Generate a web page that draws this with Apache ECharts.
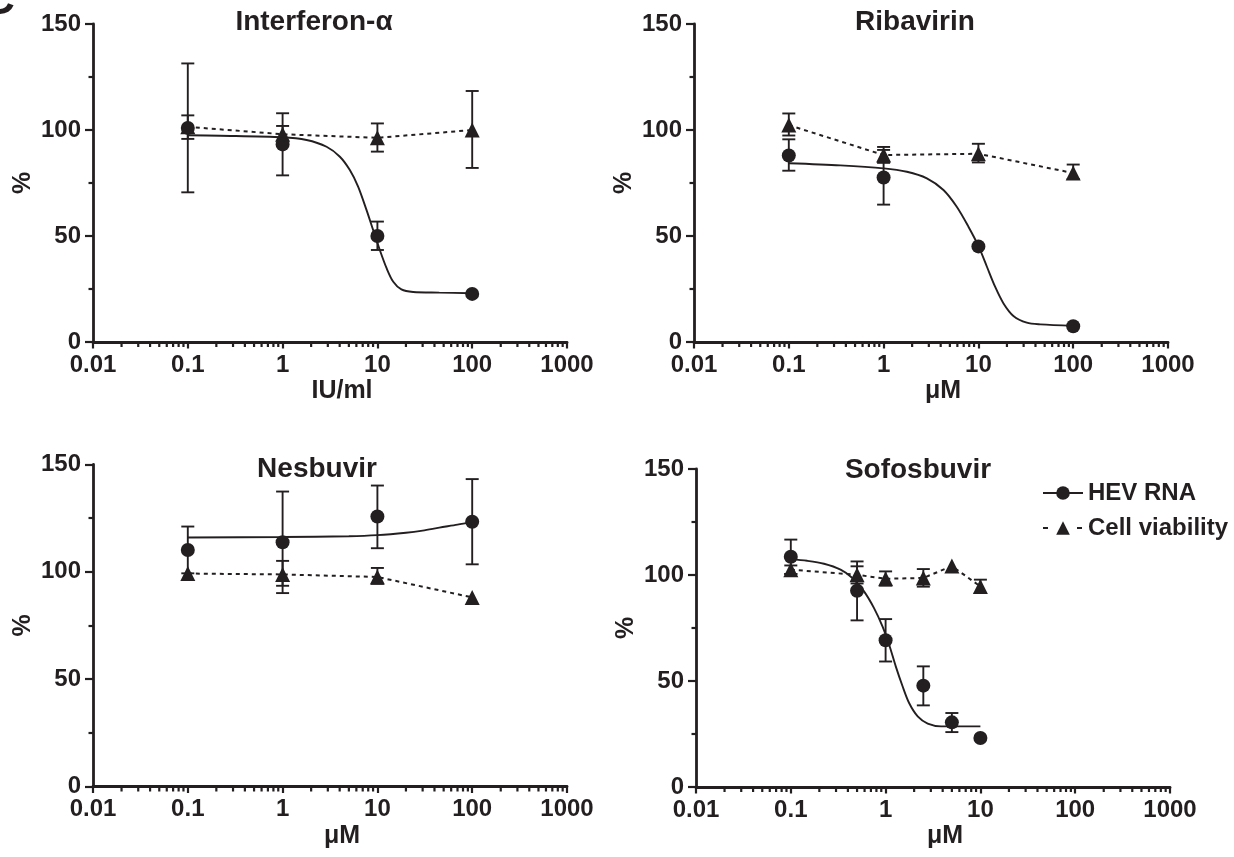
<!DOCTYPE html>
<html>
<head>
<meta charset="utf-8">
<script src="https://cdn.jsdelivr.net/npm/echarts@6/dist/echarts.min.js"></script>
<style>
  html, body { margin: 0; background: #fff; }
  #chart { width: 1234px; height: 857px; }
</style>
</head>
<body>
<div id="chart"></div>
<script>
// ---- data ----
var xTickLabels = ['0.01', '0.1', '1', '10', '100', '1000'];
var doses = [0.1, 1, 10, 100];
var sofDoses = [0.1, 0.5, 1, 2.5, 5, 10];

// Interferon-alpha
var ifnRna = [101, 93.2, 50, 22.7];
var ifnRnaLo = [70.6, 78.6, 43.4, null];
var ifnRnaHi = [131.4, 107.9, 56.8, null];
var ifnViab = [101.5, 98, 96.3, 100];
var ifnViabLo = [95.8, 94, 89.8, 82.1];
var ifnViabHi = [106.9, 101.9, 103.1, 118.4];
var ifnFitX = [0.1, 0.22, 1, 1.79, 2.91, 4.02, 5.12, 6.26, 7.67, 9.02, 10.6, 12.5, 14.7, 17.9, 23.8, 45, 100];
var ifnFitY = [97.5, 97.3, 96.6, 95.3, 92.1, 87.4, 81.1, 73.3, 62.3, 52.8, 43.4, 34.8, 28.4, 24.8, 23.6, 23.3, 23.0];

// Ribavirin
var ribRna = [88, 77.6, 45.1, 7.4];
var ribRnaLo = [80.8, 64.8, null, null];
var ribRnaHi = [95.6, 90.6, null, null];
var ribViab = [102.3, 88.2, 88.8, 79.7];
var ribViabLo = [97.4, 84.5, 84.7, 76.9];
var ribViabHi = [107.8, 92, 93.5, 83.7];
var ribFitX = [0.1, 0.35, 1, 1.76, 2.86, 4.28, 5.91, 7.85, 10, 12.3, 15, 18.4, 23.4, 32.4, 45, 100];
var ribFitY = [84.3, 83.3, 81.9, 80.3, 77.2, 71.7, 63.8, 54.4, 45.3, 35.5, 26.1, 18.2, 12.3, 9.1, 8.3, 7.6];

// Nesbuvir
var nesRna = [110.2, 113.8, 125.8, 123.3];
var nesRnaLo = [99.3, 90.1, 111, 103.5];
var nesRnaHi = [121.1, 137.4, 140.2, 143.2];
var nesViab = [99.2, 98.8, 97.6, 88.1];
var nesViabLo = [null, 93.5, 94.4, null];
var nesViabHi = [null, 105.1, 101.8, null];
var nesFitX = [0.1, 1, 5, 10, 20, 30, 45, 70, 100];
var nesFitY = [116, 116.2, 116.6, 117.1, 118.2, 119.2, 120.6, 122, 123.3];

// Sofosbuvir
var sofRna = [108.6, 92.6, 69.2, 47.8, 30.5, 23.1];
var sofRnaLo = [100.5, 78.6, 59.2, 38.5, 25.9, null];
var sofRnaHi = [116.7, 106.4, 79.2, 56.9, 34.9, null];
var sofViab = [102.5, 100.1, 98.2, 98.6, 104.2, 94.6];
var sofViabLo = [100.5, 96, 95, 94.5, null, 91.5];
var sofViabHi = [104.5, 104.1, 101.7, 102.8, null, 97.8];
var sofFitX = [0.1, 0.149, 0.224, 0.335, 0.446, 0.592, 0.755, 0.927, 1.09, 1.28, 1.51, 1.77, 2.18, 2.78, 3.85, 10];
var sofFitY = [107.5, 106.7, 105.3, 102.5, 98.6, 92.3, 84.4, 75.8, 67.1, 56.9, 47.5, 39.6, 33.3, 29.9, 28.6, 28.6];

// ---- styling ----
var ink = '#231f20';
var font = '"Liberation Sans", Arial, sans-serif';

var panels = [
  { title: 'Interferon-α', unit: 'IU/ml', x: doses,
    rna: ifnRna, rnaLo: ifnRnaLo, rnaHi: ifnRnaHi,
    viab: ifnViab, viabLo: ifnViabLo, viabHi: ifnViabHi, fitX: ifnFitX, fitY: ifnFitY,
    grid: { left: 93, top: 24, width: 474, height: 318 }, titleAt: [314, 22] },
  { title: 'Ribavirin', unit: 'μM', x: doses,
    rna: ribRna, rnaLo: ribRnaLo, rnaHi: ribRnaHi,
    viab: ribViab, viabLo: ribViabLo, viabHi: ribViabHi, fitX: ribFitX, fitY: ribFitY,
    grid: { left: 694, top: 24, width: 474, height: 318 }, titleAt: [915, 22] },
  { title: 'Nesbuvir', unit: 'μM', x: doses,
    rna: nesRna, rnaLo: nesRnaLo, rnaHi: nesRnaHi,
    viab: nesViab, viabLo: nesViabLo, viabHi: nesViabHi, fitX: nesFitX, fitY: nesFitY,
    grid: { left: 93, top: 464.5, width: 474, height: 322 }, titleAt: [317, 469] },
  { title: 'Sofosbuvir', unit: 'μM', x: sofDoses,
    rna: sofRna, rnaLo: sofRnaLo, rnaHi: sofRnaHi,
    viab: sofViab, viabLo: sofViabLo, viabHi: sofViabHi, fitX: sofFitX, fitY: sofFitY,
    grid: { left: 696, top: 469, width: 474, height: 318 }, titleAt: [918, 470] }
];

// minor ticks of the log axis: 2..9 in every decade
var minorTicks = [];
[0.01, 0.1, 1, 10, 100].forEach(function (d) {
  for (var k = 2; k <= 9; k++) minorTicks.push([+(d * k).toPrecision(3), 0]);
});

function zip(xs, ys) {
  return xs.map(function (x, i) { return [x, ys[i]]; });
}
function bars(xs, lo, hi) {
  var out = [];
  xs.forEach(function (x, i) { if (lo[i] != null) out.push([x, lo[i], hi[i]]); });
  return out;
}

// error bar with caps
function renderErr(params, api) {
  var x = api.value(0);
  var a = api.coord([x, api.value(1)]);
  var b = api.coord([x, api.value(2)]);
  var w = 6.5;
  var st = { stroke: ink, lineWidth: 1.9 };
  return {
    type: 'group',
    children: [
      { type: 'line', shape: { x1: a[0], y1: a[1], x2: b[0], y2: b[1] }, style: st },
      { type: 'line', shape: { x1: a[0] - w, y1: a[1], x2: a[0] + w, y2: a[1] }, style: st },
      { type: 'line', shape: { x1: b[0] - w, y1: b[1], x2: b[0] + w, y2: b[1] }, style: st }
    ]
  };
}

var grids = [], xAxes = [], yAxes = [], graphics = [];
var series = [
  // legend-only series
  { name: 'HEV RNA', type: 'line', xAxisIndex: 3, yAxisIndex: 3, data: [],
    symbol: 'circle', itemStyle: { color: ink }, lineStyle: { color: ink, width: 3 } },
  { name: 'Cell viability', type: 'line', xAxisIndex: 3, yAxisIndex: 3, data: [],
    symbol: 'triangle', itemStyle: { color: ink }, lineStyle: { color: ink, width: 3, type: [5, 29] } }
];

panels.forEach(function (p, i) {
  grids.push(p.grid);
  xAxes.push({
    type: 'log', logBase: 10, gridIndex: i, min: 0.01, max: 1000,
    name: p.unit, nameLocation: 'middle', nameGap: 37,
    nameTextStyle: { fontSize: 25, fontWeight: 'bold', color: ink, fontFamily: font, padding: [0, 0, 0, 24] },
    axisLine: { onZero: false, lineStyle: { color: ink, width: 2.8 } },
    axisTick: { length: 6.5, lineStyle: { color: ink, width: 2.2 } },
    axisLabel: { fontSize: 24, fontWeight: 'bold', color: ink, fontFamily: font, margin: 11,
      formatter: function (v) { return xTickLabels[Math.round(Math.log10(v)) + 2]; } },
    splitLine: { show: false }
  });
  yAxes.push({
    type: 'value', gridIndex: i, min: 0, max: 150, interval: 50,
    name: '%', nameLocation: 'middle', nameGap: 57,
    nameTextStyle: { fontSize: 25, fontWeight: 'bold', color: ink, fontFamily: font },
    axisLine: { show: true, onZero: false, lineStyle: { color: ink, width: 2.8 } },
    axisTick: { show: true, length: 8, lineStyle: { color: ink, width: 2.2 } },
    minorTick: { show: true, splitNumber: 2, length: 4.5, lineStyle: { color: ink, width: 2.2 } },
    axisLabel: { fontSize: 24, fontWeight: 'bold', color: ink, fontFamily: font, margin: 12 },
    splitLine: { show: false }
  });
  graphics.push({
    type: 'text', x: p.titleAt[0], y: p.titleAt[1],
    style: { text: p.title, fill: ink, font: 'bold 28px ' + font, textAlign: 'center', textVerticalAlign: 'middle' }
  });

  series.push(
    { name: 'err' + i, type: 'custom', xAxisIndex: i, yAxisIndex: i, z: 1, silent: true,
      renderItem: renderErr, encode: { x: 0, y: [1, 2] },
      data: bars(p.x, p.rnaLo, p.rnaHi).concat(bars(p.x, p.viabLo, p.viabHi)) },
    { name: 'fit' + i, type: 'line', xAxisIndex: i, yAxisIndex: i, z: 2, silent: true,
      data: zip(p.fitX, p.fitY), symbol: 'none', smooth: 0.3,
      lineStyle: { color: ink, width: 1.9 } },
    { name: 'viab' + i, type: 'line', xAxisIndex: i, yAxisIndex: i, z: 3,
      data: zip(p.x, p.viab), symbol: 'triangle', symbolSize: 15,
      itemStyle: { color: ink, opacity: 1 }, lineStyle: { color: ink, width: 2, type: [4, 4] } },
    { name: 'rna' + i, type: 'scatter', xAxisIndex: i, yAxisIndex: i, z: 4,
      data: zip(p.x, p.rna), symbol: 'circle', symbolSize: 14, itemStyle: { color: ink, opacity: 1 } },
    { name: 'minor' + i, type: 'scatter', xAxisIndex: i, yAxisIndex: i, z: 5, silent: true, clip: false,
      data: minorTicks, symbol: 'rect', symbolSize: [2.2, 5], symbolOffset: [0, 2.5],
      itemStyle: { color: ink, opacity: 1 } }
  );
});

// panel letter, mostly cut off at the corner
graphics.push({
  type: 'text', x: -17, y: -20,
  style: { text: 'C', fill: ink, font: 'bold 44px ' + font }
});

var option = {
  animation: false,
  backgroundColor: '#fff',
  grid: grids,
  xAxis: xAxes,
  yAxis: yAxes,
  legend: {
    data: ['HEV RNA', 'Cell viability'],
    orient: 'vertical', left: 1037, top: 476,
    itemWidth: 40, itemHeight: 17, itemGap: 11,
    textStyle: { fontSize: 24, fontWeight: 'bold', color: ink, fontFamily: font }
  },
  graphic: graphics,
  series: series
};

var chart = echarts.init(document.getElementById('chart'));
chart.setOption(option);
</script>
</body>
</html>
